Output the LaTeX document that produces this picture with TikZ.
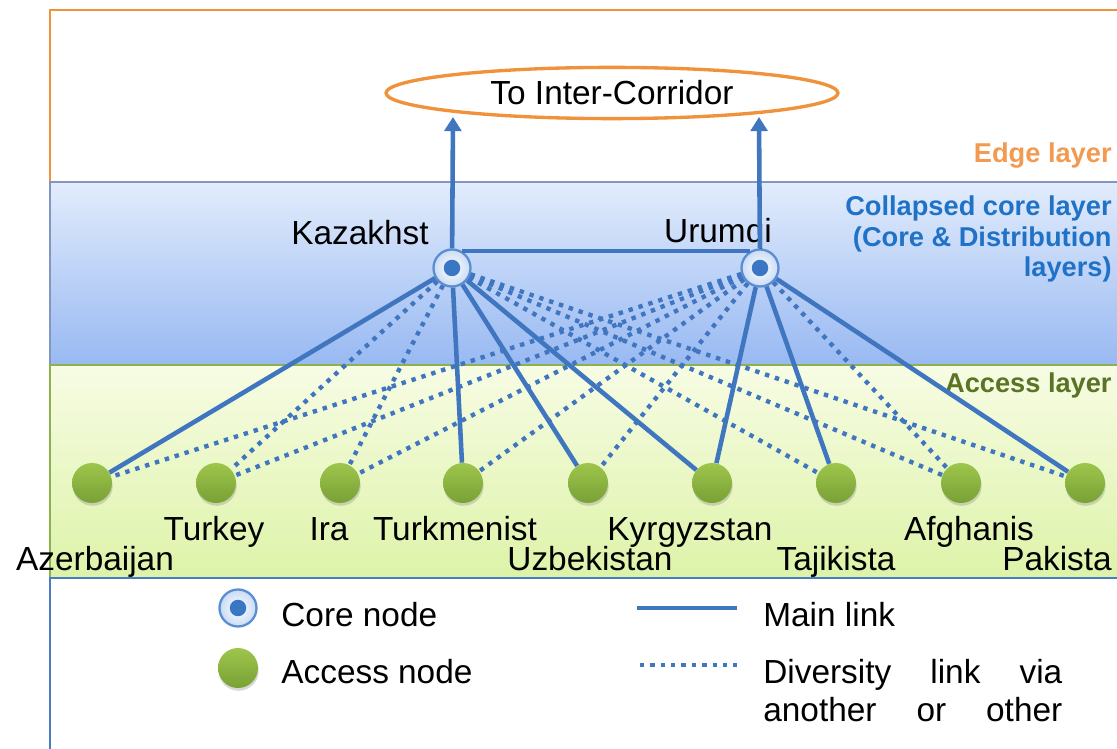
\documentclass[tikz,border=0pt]{standalone}
\usepackage{fontspec}
\setmainfont{Liberation Sans}
\usetikzlibrary{shapes.geometric,arrows.meta,shadows}

\definecolor{linkblue}{HTML}{4076C0}
\definecolor{edgeorange}{HTML}{F0913C}
\definecolor{edgetext}{HTML}{F29A50}
\definecolor{coretext}{HTML}{1F72C6}
\definecolor{accesstext}{HTML}{5A7324}
\definecolor{coretop}{HTML}{E2ECFC}
\definecolor{corebot}{HTML}{98B9F2}
\definecolor{coreline}{HTML}{8197C0}
\definecolor{accesstop}{HTML}{F7FCE4}
\definecolor{accessbot}{HTML}{DDF3A8}
\definecolor{accessline}{HTML}{8DB14E}
\definecolor{legendline}{HTML}{4A7CC4}
\definecolor{coreedge}{HTML}{5B8ED0}
\definecolor{corering}{HTML}{C9DBF6}
\definecolor{coredot}{HTML}{3A76C4}
\definecolor{nodetop}{HTML}{9EC64C}
\definecolor{nodebot}{HTML}{78A035}

\tikzstyle{core}=[circle,minimum size=0.74cm,inner sep=0pt,draw=coreedge,line width=1.3pt,
  inner color=white,outer color=corering,
  path picture={\fill[coredot] (path picture bounding box.center) circle (0.165cm);}]
\tikzstyle{access}=[circle,minimum size=0.8cm,inner sep=0pt,top color=nodetop,bottom color=nodebot,
  drop shadow={opacity=0.3,shadow xshift=0.4pt,shadow yshift=-1.6pt}]
\tikzstyle{mainlink}=[linkblue,line width=2.6pt]
\tikzstyle{divlink}=[linkblue,line width=2.5pt,dash pattern=on 2.5pt off 3.4pt]
\tikzstyle{label}=[font=\fontsize{19}{22}\selectfont,inner sep=0pt,anchor=base]
\tikzstyle{layerlabel}=[font=\fontsize{15.5}{17.6}\selectfont\bfseries,inner sep=0pt]

\begin{document}
\begin{tikzpicture}[x=0.02cm,y=-0.02cm]
\clip (0,0) rectangle (1117,749);

% layers
\fill[white] (0,0) rectangle (1117,749);
\draw[edgeorange,line width=1.5pt] (50,182) -- (50,10) -- (1130,10);
\shade[top color=coretop,bottom color=corebot] (50,182) rectangle (1130,365);
\draw[coreline,line width=1.2pt] (50,365) -- (50,182) -- (1130,182);
\shade[top color=accesstop,bottom color=accessbot] (50,365) rectangle (1130,578);
\draw[accessline,line width=1.2pt] (50,578) -- (50,365) -- (1130,365);
\draw[legendline,line width=1.5pt,fill=white] (50,760) -- (50,578) -- (1130,578);

\node[layerlabel,text=edgetext,anchor=base east] (edgelbl) at (1112,163) {Edge layer};
\node[layerlabel,text=coretext,anchor=north east,align=right] (corelbl) at (1112,195)
  {Collapsed core layer\\(Core \& Distribution\\layers)};
\node[layerlabel,text=accesstext,anchor=base east] (accesslbl) at (1112,393) {Access layer};

% corridor
\node[ellipse,draw=edgeorange,line width=1.9pt,minimum width=9.04cm,minimum height=0.96cm,
  font=\fontsize{19}{22}\selectfont] (ic) at (612,93) {To Inter-Corridor};

% core nodes
\node[label] (kazlbl) at (360,245) {Kazakhst};
\node[label] (urulbl) at (718,243) {Urumqi};
\node[core] (kaz) at (452,268) {};
\node[core] (uru) at (760,268) {};
\coordinate (kazout) at (453,117);
\coordinate (uruout) at (759,117);

% access nodes
\node[access] (aze) at (92,483) {};
\node[access] (tur) at (216,483) {};
\node[access] (ira) at (340,483) {};
\node[access] (tkm) at (463,483) {};
\node[access] (uzb) at (588,483) {};
\node[access] (kgz) at (712,483) {};
\node[access] (tjk) at (836,483) {};
\node[access] (afg) at (961,483) {};
\node[access] (pak) at (1085,483) {};

\node[label] (turlbl) at (214,541) {Turkey};
\node[label] (iralbl) at (329,541) {Ira};
\node[label] (tkmlbl) at (455,541) {Turkmenist};
\node[label] (kgzlbl) at (690,541) {Kyrgyzstan};
\node[label] (afglbl) at (969,541) {Afghanis};
\node[label] (azelbl) at (95,571) {Azerbaijan};
\node[label] (uzblbl) at (590,571) {Uzbekistan};
\node[label] (tjklbl) at (836,571) {Tajikista};
\node[label] (paklbl) at (1057,571) {Pakista};

% links
\draw[mainlink,-{Triangle[length=8pt,width=9.5pt]}] (kaz) -- (kazout);
\draw[mainlink,-{Triangle[length=8pt,width=9.5pt]}] (uru) -- (uruout);
\draw[mainlink] (kaz.60) -- (uru.120);

\draw[mainlink] (kaz) -- (aze);
\draw[mainlink] (kaz) -- (tkm);
\draw[mainlink] (kaz) -- (uzb);
\draw[mainlink] (kaz) -- (kgz);
\draw[mainlink] (uru) -- (kgz);
\draw[mainlink] (uru) -- (tjk);
\draw[mainlink] (uru) -- (pak);

\draw[divlink] (kaz) -- (tur);
\draw[divlink] (kaz) -- (ira);
\draw[divlink] (kaz) -- (tjk);
\draw[divlink] (kaz) -- (afg);
\draw[divlink] (kaz) -- (pak);
\draw[divlink] (uru) -- (aze);
\draw[divlink] (uru) -- (tur);
\draw[divlink] (uru) -- (ira);
\draw[divlink] (uru) -- (tkm);
\draw[divlink] (uru) -- (uzb);
\draw[divlink] (uru) -- (afg);

% legend
\node[core] (legcore) at (238,608) {};
\node[access] (legaccess) at (238,668) {};
\node[label,anchor=base west] (legcorelbl) at (281,627) {Core node};
\node[label,anchor=base west] (legaccesslbl) at (281,684) {Access node};
\coordinate (mainA) at (637,608);
\coordinate (mainB) at (737,608);
\coordinate (divA) at (640,665);
\coordinate (divB) at (737,665);
\draw[mainlink] (mainA) -- (mainB);
\draw[divlink] (divA) -- (divB);
\node[label,anchor=base west] (mainlbl) at (763,627) {Main link};
\node[label,anchor=base west] (divlbl) at (763,684) {\hbox to 5.98cm{Diversity\hfill link\hfill via}};
\node[label,anchor=base west] (divlbl2) at (763,722) {\hbox to 5.98cm{another\hfill or\hfill other}};
\end{tikzpicture}
\end{document}
